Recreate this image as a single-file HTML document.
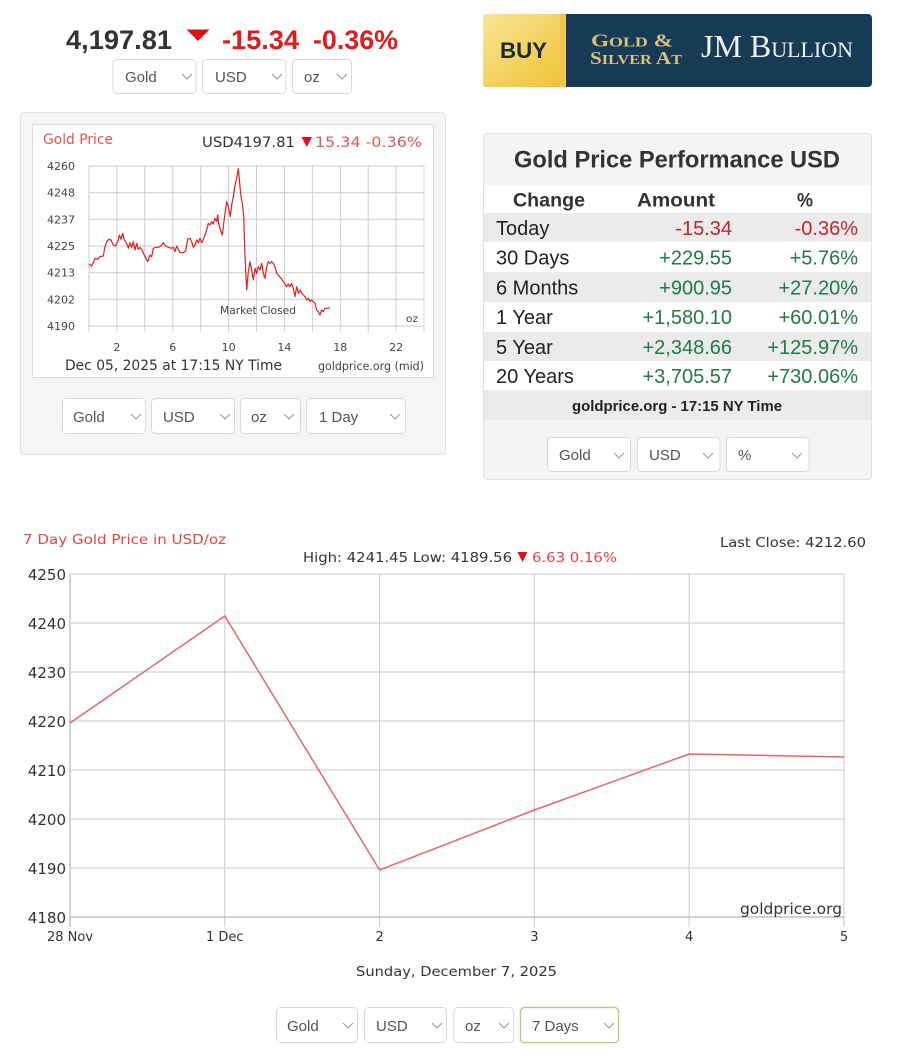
<!DOCTYPE html>
<html><head><meta charset="utf-8"><style>
html,body{margin:0;padding:0;background:#fff;width:905px;height:1061px;overflow:hidden}
svg{display:block}
.ls{font-family:"Liberation Sans",sans-serif}
.dj{font-family:"DejaVu Sans","Liberation Sans",sans-serif}
.sr{font-family:"Liberation Serif",serif}
</style></head><body>
<svg width="905" height="1061" viewBox="0 0 905 1061" xmlns="http://www.w3.org/2000/svg">
<defs>
<linearGradient id="gold" x1="0" y1="0" x2="1" y2="1">
<stop offset="0" stop-color="#f8e595"/><stop offset="1" stop-color="#eec232"/>
</linearGradient>
</defs>
<rect width="905" height="1061" fill="#fff"/>

<!-- TOP PRICE -->
<text class="ls" x="66" y="49" font-size="27" font-weight="bold" fill="#333" textLength="106" lengthAdjust="spacingAndGlyphs">4,197.81</text>
<polygon points="186.5,29.5 209.5,29.5 198,41" fill="#e0101a"/>
<text class="ls" x="222" y="49" font-size="27" font-weight="bold" fill="#dd1c1c" textLength="77" lengthAdjust="spacingAndGlyphs">-15.34</text>
<text class="ls" x="313" y="49" font-size="27" font-weight="bold" fill="#dd1c1c" textLength="85" lengthAdjust="spacingAndGlyphs">-0.36%</text>

<!-- top selects -->
<g class="ls" font-size="15" fill="#555">
<rect x="113" y="59.5" width="83" height="34" rx="4" fill="#fff" stroke="#d9d9d9"/>
<text x="125" y="82">Gold</text>
<polyline points="182,74 187,79 192,74" fill="none" stroke="#999"/>
<rect x="202.5" y="59.5" width="83.5" height="34" rx="4" fill="#fff" stroke="#d9d9d9"/>
<text x="215" y="82">USD</text>
<polyline points="272,74 277,79 282,74" fill="none" stroke="#999"/>
<rect x="292.5" y="59.5" width="59" height="34" rx="4" fill="#fff" stroke="#d9d9d9"/>
<text x="304" y="82">oz</text>
<polyline points="337,74 342,79 347,74" fill="none" stroke="#999"/>
</g>

<!-- BANNER -->
<rect x="483" y="14" width="389" height="73" rx="4" fill="#173a55"/>
<rect x="483" y="14" width="83" height="73" rx="4" fill="url(#gold)"/>
<rect x="560" y="14" width="6" height="73" fill="#efc84a"/>
<text class="ls" x="500" y="58" font-size="22" font-weight="bold" fill="#1d2a33" textLength="47" lengthAdjust="spacingAndGlyphs">BUY</text>
<text class="sr" x="591" y="46.5" font-weight="bold" fill="#d9c17f" textLength="82" lengthAdjust="spacingAndGlyphs"><tspan font-size="17.5">G</tspan><tspan font-size="13.5">OLD</tspan><tspan font-size="17.5"> &amp;</tspan></text>
<text class="sr" x="590" y="64" font-weight="bold" fill="#d9c17f" textLength="92" lengthAdjust="spacingAndGlyphs"><tspan font-size="17.5">S</tspan><tspan font-size="13.5">ILVER </tspan><tspan font-size="17.5">A</tspan><tspan font-size="13.5">T</tspan></text>
<text class="sr" x="701" y="57" fill="#eef2f5" textLength="152" lengthAdjust="spacingAndGlyphs"><tspan font-size="32">JM B</tspan><tspan font-size="22">ULLION</tspan></text>

<!-- LEFT PANEL -->
<rect x="20.5" y="112.5" width="425" height="342" rx="3" fill="#f5f5f5" stroke="#e2e2e2"/>
<rect x="32.5" y="124.5" width="401" height="253" fill="#fff" stroke="#dcdcdc"/>
<g stroke="#cfcfcf" stroke-width="1">
<line x1="89" y1="166" x2="424" y2="166"/>
<line x1="89" y1="192.7" x2="424" y2="192.7"/>
<line x1="89" y1="219.3" x2="424" y2="219.3"/>
<line x1="89" y1="246" x2="424" y2="246"/>
<line x1="89" y1="272.7" x2="424" y2="272.7"/>
<line x1="89" y1="299.3" x2="424" y2="299.3"/>
<line x1="89" y1="326" x2="424" y2="326"/>
<line x1="89" y1="166" x2="89" y2="332"/>
<line x1="116.9" y1="166" x2="116.9" y2="332"/>
<line x1="144.8" y1="166" x2="144.8" y2="332"/>
<line x1="172.8" y1="166" x2="172.8" y2="332"/>
<line x1="200.7" y1="166" x2="200.7" y2="332"/>
<line x1="228.6" y1="166" x2="228.6" y2="332"/>
<line x1="256.5" y1="166" x2="256.5" y2="332"/>
<line x1="284.4" y1="166" x2="284.4" y2="332"/>
<line x1="312.4" y1="166" x2="312.4" y2="332"/>
<line x1="340.3" y1="166" x2="340.3" y2="332"/>
<line x1="368.2" y1="166" x2="368.2" y2="332"/>
<line x1="396.1" y1="166" x2="396.1" y2="332"/>
<line x1="424" y1="166" x2="424" y2="332"/>
</g>
<g class="dj" font-size="11" fill="#444" text-anchor="end">
<text x="75" y="170">4260</text>
<text x="75" y="196.7">4248</text>
<text x="75" y="223.3">4237</text>
<text x="75" y="250">4225</text>
<text x="75" y="276.7">4213</text>
<text x="75" y="303.3">4202</text>
<text x="75" y="330">4190</text>
</g>
<g class="dj" font-size="11" fill="#444" text-anchor="middle">
<text x="116.9" y="351">2</text>
<text x="172.8" y="351">6</text>
<text x="228.6" y="351">10</text>
<text x="284.4" y="351">14</text>
<text x="340.3" y="351">18</text>
<text x="396.1" y="351">22</text>
</g>
<g transform="translate(85,160) scale(0.33333)">
<polyline fill="none" stroke="#e02020" stroke-width="1.2" vector-effect="non-scaling-stroke" stroke-linejoin="round" points="12,312 20,318 25,308 30,295 38,298 45,290 55,288 60,260 65,245 72,238 78,240 85,255 92,258 100,240 103,225 108,238 113,220 118,240 125,250 130,265 135,248 140,262 145,245 150,270 155,250 160,268 165,262 172,272 180,290 188,305 195,285 200,290 205,265 212,262 220,262 228,258 235,248 242,258 250,262 258,265 265,262 270,275 275,258 280,268 285,278 295,278 302,272 308,238 315,235 320,245 325,262 330,255 335,240 340,248 345,235 350,248 355,238 360,225 365,210 370,190 375,195 380,185 385,192 390,175 395,185 398,165 402,195 408,215 412,225 418,175 425,125 430,140 436,170 440,135 445,110 450,75 455,55 460,25 465,80 468,110 472,130 476,165 480,290 485,390 490,335 495,305 500,330 505,360 510,325 515,340 520,320 525,330 530,310 535,340 540,355 545,320 550,305 555,310 560,305 565,310 570,320 575,340 580,345 588,355 595,365 600,372 605,380 610,372 615,380 620,370 625,385 630,410 635,380 640,400 645,390 650,400 655,405 660,410 665,420 670,415 675,425 680,420 685,425 690,430 695,450 700,455 705,465 710,450 715,455 720,445 728,445 735,443"/>
</g>
<text class="dj" x="43" y="144" font-size="14" fill="#e05555" textLength="70" lengthAdjust="spacingAndGlyphs">Gold Price</text>
<text class="dj" x="202" y="147" font-size="14" fill="#333" textLength="93" lengthAdjust="spacingAndGlyphs">USD4197.81</text>
<polygon points="301.5,137 312,137 306.8,147" fill="#e0101a"/>
<text class="dj" x="315" y="147" font-size="14" fill="#e05555" textLength="107" lengthAdjust="spacingAndGlyphs">15.34 -0.36%</text>
<text class="dj" x="220" y="314" font-size="11" fill="#444" textLength="76" lengthAdjust="spacingAndGlyphs">Market Closed</text>
<text class="dj" x="406" y="322" font-size="10" fill="#444" textLength="12" lengthAdjust="spacingAndGlyphs">oz</text>
<text class="dj" x="65" y="370" font-size="14.5" fill="#333" textLength="217" lengthAdjust="spacingAndGlyphs">Dec 05, 2025 at 17:15 NY Time</text>
<text class="dj" x="318" y="370" font-size="11.5" fill="#444" textLength="106" lengthAdjust="spacingAndGlyphs">goldprice.org (mid)</text>

<!-- left panel selects -->
<g class="ls" font-size="15" fill="#555">
<rect x="62.5" y="398.5" width="83" height="35" rx="4" fill="#fff" stroke="#d9d9d9"/>
<text x="73" y="422">Gold</text>
<polyline points="131,414 136,419 141,414" fill="none" stroke="#999"/>
<rect x="151.5" y="398.5" width="83" height="35" rx="4" fill="#fff" stroke="#d9d9d9"/>
<text x="163" y="422">USD</text>
<polyline points="220,414 225,419 230,414" fill="none" stroke="#999"/>
<rect x="240.5" y="398.5" width="60" height="35" rx="4" fill="#fff" stroke="#d9d9d9"/>
<text x="251" y="422">oz</text>
<polyline points="284,414 289,419 294,414" fill="none" stroke="#999"/>
<rect x="306.5" y="398.5" width="99" height="35" rx="4" fill="#fff" stroke="#d9d9d9"/>
<text x="319" y="422">1 Day</text>
<polyline points="390,414 395,419 400,414" fill="none" stroke="#999"/>
</g>

<!-- RIGHT PANEL -->
<rect x="483.5" y="133.5" width="388" height="346" rx="3" fill="#f4f4f4" stroke="#e2e2e2"/>
<text class="ls" x="514" y="167.5" font-size="24" font-weight="bold" fill="#333" textLength="326" lengthAdjust="spacingAndGlyphs">Gold Price Performance USD</text>
<rect x="484" y="185" width="387" height="28" fill="#fff"/>
<rect x="484" y="213" width="387" height="29" fill="#ebebeb"/>
<rect x="484" y="242" width="387" height="30" fill="#fff"/>
<rect x="484" y="272" width="387" height="30" fill="#ebebeb"/>
<rect x="484" y="302" width="387" height="30" fill="#fff"/>
<rect x="484" y="332" width="387" height="29" fill="#ebebeb"/>
<rect x="484" y="361" width="387" height="29" fill="#fff"/>
<rect x="484" y="390" width="387" height="30" fill="#ebebeb"/>
<g class="ls" font-size="19.5" font-weight="bold" fill="#333">
<text x="513" y="206.5" textLength="72" lengthAdjust="spacingAndGlyphs">Change</text>
<text x="637" y="206.5" textLength="78" lengthAdjust="spacingAndGlyphs">Amount</text>
<text x="797" y="206.5" textLength="16" lengthAdjust="spacingAndGlyphs">%</text>
</g>
<g class="ls" font-size="20" fill="#222">
<text x="496" y="235">Today</text>
<text x="496" y="264.5">30 Days</text>
<text x="496" y="294.5">6 Months</text>
<text x="496" y="324">1 Year</text>
<text x="496" y="354">5 Year</text>
<text x="496" y="383">20 Years</text>
</g>
<g class="ls" font-size="20" text-anchor="end">
<text x="732" y="235" fill="#c0282d">-15.34</text>
<text x="858" y="235" fill="#c0282d">-0.36%</text>
<text x="732" y="264.5" fill="#237a42">+229.55</text>
<text x="858" y="264.5" fill="#237a42">+5.76%</text>
<text x="732" y="294.5" fill="#237a42">+900.95</text>
<text x="858" y="294.5" fill="#237a42">+27.20%</text>
<text x="732" y="324" fill="#237a42">+1,580.10</text>
<text x="858" y="324" fill="#237a42">+60.01%</text>
<text x="732" y="354" fill="#237a42">+2,348.66</text>
<text x="858" y="354" fill="#237a42">+125.97%</text>
<text x="732" y="383" fill="#237a42">+3,705.57</text>
<text x="858" y="383" fill="#237a42">+730.06%</text>
</g>
<text class="ls" x="572" y="411" font-size="15" font-weight="bold" fill="#222" textLength="210" lengthAdjust="spacingAndGlyphs">goldprice.org - 17:15 NY Time</text>
<g class="ls" font-size="15" fill="#555">
<rect x="547.5" y="437.5" width="83" height="34" rx="4" fill="#fff" stroke="#d9d9d9"/>
<text x="559" y="460">Gold</text>
<polyline points="614,453 619,458 624,453" fill="none" stroke="#999"/>
<rect x="637.5" y="437.5" width="82.5" height="34" rx="4" fill="#fff" stroke="#d9d9d9"/>
<text x="649" y="460">USD</text>
<polyline points="703,453 708,458 713,453" fill="none" stroke="#999"/>
<rect x="726.5" y="437.5" width="82.5" height="34" rx="4" fill="#fff" stroke="#d9d9d9"/>
<text x="738" y="460">%</text>
<polyline points="792,453 797,458 802,453" fill="none" stroke="#999"/>
</g>

<!-- MAIN 7 DAY CHART -->
<text class="dj" x="23" y="544" font-size="13.5" fill="#e04848" textLength="203" lengthAdjust="spacingAndGlyphs">7 Day Gold Price in USD/oz</text>
<text class="dj" x="303" y="562" font-size="13.5" fill="#333" textLength="209" lengthAdjust="spacingAndGlyphs">High: 4241.45 Low: 4189.56</text>
<polygon points="517.5,552 527.5,552 522.5,562" fill="#e0101a"/>
<text class="dj" x="532" y="562" font-size="13.5" fill="#e04848" textLength="85" lengthAdjust="spacingAndGlyphs">6.63 0.16%</text>
<text class="dj" x="720" y="547" font-size="13.5" fill="#333" textLength="146" lengthAdjust="spacingAndGlyphs">Last Close: 4212.60</text>
<g stroke="#d3d3d3" stroke-width="1.2">
<line x1="70" y1="574" x2="844" y2="574"/>
<line x1="70" y1="623" x2="844" y2="623"/>
<line x1="70" y1="672" x2="844" y2="672"/>
<line x1="70" y1="721" x2="844" y2="721"/>
<line x1="70" y1="770" x2="844" y2="770"/>
<line x1="70" y1="819" x2="844" y2="819"/>
<line x1="70" y1="868" x2="844" y2="868"/>
<line x1="224.8" y1="574" x2="224.8" y2="927"/>
<line x1="379.6" y1="574" x2="379.6" y2="927"/>
<line x1="534.4" y1="574" x2="534.4" y2="927"/>
<line x1="689.2" y1="574" x2="689.2" y2="927"/>
<line x1="844" y1="574" x2="844" y2="927"/>
</g>
<g stroke="#b8b8b8" stroke-width="1.2">
<line x1="70" y1="574" x2="70" y2="927"/>
<line x1="70" y1="917" x2="844" y2="917"/>
</g>
<g class="dj" font-size="15" fill="#333" text-anchor="end">
<text x="66" y="580">4250</text>
<text x="66" y="629">4240</text>
<text x="66" y="678">4230</text>
<text x="66" y="727">4220</text>
<text x="66" y="776">4210</text>
<text x="66" y="825">4200</text>
<text x="66" y="874">4190</text>
<text x="66" y="923">4180</text>
</g>
<g class="dj" font-size="13" fill="#333" text-anchor="middle">
<text x="70" y="941">28 Nov</text>
<text x="224.8" y="941">1 Dec</text>
<text x="379.6" y="941">2</text>
<text x="534.4" y="941">3</text>
<text x="689.2" y="941">4</text>
<text x="844" y="941">5</text>
</g>
<polyline fill="none" stroke="#e06a6a" stroke-width="1.5" stroke-linejoin="round" points="70,723 224.8,616 379.6,870 534.4,810 689.2,754 844,757"/>
<text class="dj" x="842" y="914" font-size="15" fill="#333" text-anchor="end" textLength="102" lengthAdjust="spacingAndGlyphs">goldprice.org</text>
<text class="dj" x="356" y="976" font-size="13.5" fill="#333" textLength="201" lengthAdjust="spacingAndGlyphs">Sunday, December 7, 2025</text>

<!-- bottom selects -->
<g class="ls" font-size="15" fill="#555">
<rect x="276.5" y="1007.5" width="81" height="35" rx="4" fill="#fff" stroke="#d9d9d9"/>
<text x="287" y="1031">Gold</text>
<polyline points="343,1023 348,1028 353,1023" fill="none" stroke="#999"/>
<rect x="364.5" y="1007.5" width="82" height="35" rx="4" fill="#fff" stroke="#d9d9d9"/>
<text x="376" y="1031">USD</text>
<polyline points="432,1023 437,1028 442,1023" fill="none" stroke="#999"/>
<rect x="454" y="1007.5" width="59.5" height="35" rx="4" fill="#fff" stroke="#d9d9d9"/>
<text x="465" y="1031">oz</text>
<polyline points="499,1023 504,1028 509,1023" fill="none" stroke="#999"/>
<rect x="518.5" y="1005.5" width="102" height="39" rx="5" fill="#eef6fb" opacity="0.8"/>
<rect x="520.5" y="1007.5" width="98" height="35" rx="4" fill="#fff" stroke="#c9c27a" stroke-width="1.3"/>
<text x="532" y="1031">7 Days</text>
<polyline points="604,1023 609,1028 614,1023" fill="none" stroke="#999"/>
</g>
</svg>
</body></html>
